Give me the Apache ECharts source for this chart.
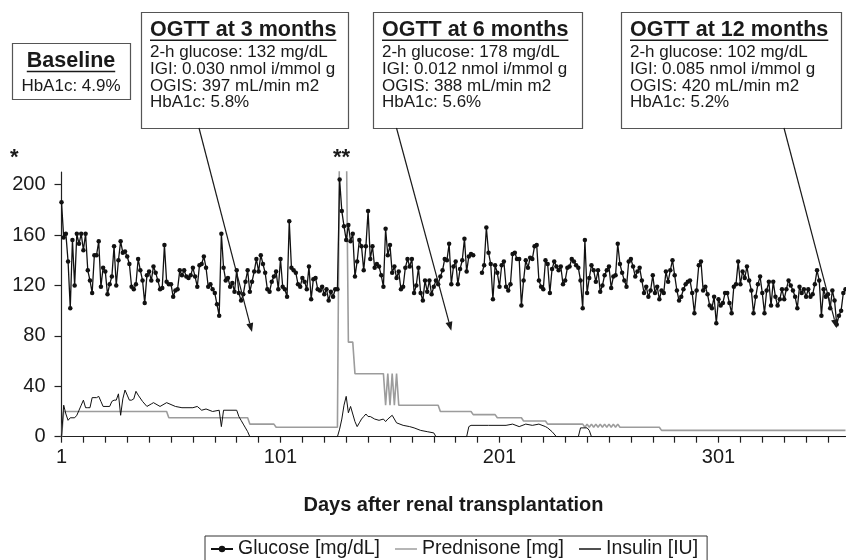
<!DOCTYPE html>
<html><head><meta charset="utf-8">
<script src="https://cdn.jsdelivr.net/npm/echarts@6/dist/echarts.min.js"></script>
<style>html,body{margin:0;padding:0;background:#fff}#c{width:846px;height:560px}</style>
</head><body><div id="c"></div>
<script>
// x values are "days after transplantation - 1" (day 1 -> 0)
const glucose = [
186,158,161,139,102,156,120,161,153,161,148,161,132,124,114,144,144,155,119,134,
131,113,121,127,151,120,140,155,146,147,143,137,119,117,121,141,132,124,106,128,
131,124,135,130,124,117,118,152,123,121,121,111,116,117,132,128,132,127,126,128,
134,127,119,136,137,143,134,119,121,117,114,105,96,
161,134,124,126,119,122,115,132,114,108,113,123,132,115,123,131,141,131,144,137,
130,117,115,123,127,131,117,141,119,117,111,171,134,132,130,121,119,126,123,117,
135,109,125,126,117,116,119,113,117,108,115,111,117,117,
204,179,167,156,168,155,161,127,139,156,151,132,151,179,141,
151,134,137,135,128,119,165,144,152,130,135,126,131,117,119,134,141,135,141,
114,120,134,114,108,124,115,124,113,119,124,121,127,132,141,140,153,121,135,139,
121,133,140,157,131,143,145,144,
null,null,null,
130,136,166,146,137,109,136,130,119,136,139,119,116,121,145,146,141,141,104,124,140,134,142,
141,151,152,124,119,117,140,137,114,133,139,135,132,135,121,124,134,135,141,139,
136,134,124,102,156,114,126,136,132,123,132,115,120,128,132,135,118,127,128,153,
137,130,124,119,139,141,135,127,131,134,124,114,119,111,116,128,114,119,109,116,
114,131,123,132,140,128,116,108,111,117,121,123,
124,114,98,116,136,139,116,119,113,104,102,111,90,109,104,106,114,114,106,98,
119,121,139,121,131,126,135,124,116,98,111,121,127,114,98,116,123,104,123,111,
104,109,117,109,117,124,120,116,111,102,119,114,117,111,117,111,113,121,132,124,
96,117,111,113,102,116,108,89,96,100,114,117
];
const predDay  = [0,1,48,49,85,86,97,98,126,127,130,131,133,134,147,148,149,150,151,152,153,154,172,173,187,188,198,199,210,211,221,222,238,239,240,241,242,243,244,245,246,247,248,249,250,251,252,253,254,255,273,274,358];
const predDose = [0,20,20,15,15,10,10,7.5,7.5,250,250,75,75,50,50,25,50,25,50,25,50,25,25,20,20,17.5,17.5,15,15,12.5,12.5,10,10,7.5,10,7.5,10,7.5,10,7.5,10,7.5,10,7.5,10,7.5,10,7.5,10,7.5,7.5,5,5];
const insDay = [0,1,2,3,4,6,7,8,9,10,11,12,13,14,16,17,18,19,22,23,24,25,26,27,28,29,30,31,32,33,34,35,37,39,41,42,45,48,52,55,60,62,64,66,69,72,73,74,80,81,82,83,84,85,86,126,127,128,129,130,131,132,133,134,135,136,137,138,139,140,141,143,145,147,148,149,151,153,156,159,161,164,167,170,171,185,186,187,195,203,206,209,212,215,218,221,222,224,226,236,237,240,241,242,358];
const insVal = [0,25,18,13,15,15,17,21,25,29,23,23,23,31,31,32,28,24,24,28,29,29,34,17,30,37,33,29,29,30,36,33,28,24,26,27,24,27,24,23,23,24,21,22,20,21,8,21,21,16,13,10,7,4,0,0,6,14,25,32,19,24,18,12,8,11,14,16,18,16,16,14,13,14,12,14,17,11,9,8,7,5,4,3,0,0,8,9,9,9,10,8,10,9,10,8,7,4,0,0,7,7,5,0,0];

const xTickValues = [0,10,20,30,40,50,60,70,80,90,100,110,120,130,140,150,160,170,180,190,200,210,220,230,240,250,260,270,280,290,300,310,320,330,340,350];
const xLabelValues = [0,100,200,300];   // shown as 1, 101, 201, 301
const yTickValues = [0,40,80,120,160,200];

const boxTitles = ['Baseline','OGTT at 3 months','OGTT at 6 months','OGTT at 12 months'];
const boxLines = [
  ['HbA1c: 4.9%'],
  ['2-h glucose: 132 mg/dL','IGI: 0.030 nmol i/mmol g','OGIS: 397 mL/min m2','HbA1c: 5.8%'],
  ['2-h glucose: 178 mg/dL','IGI: 0.012 nmol i/mmol g','OGIS: 388 mL/min m2','HbA1c: 5.6%'],
  ['2-h glucose: 102 mg/dL','IGI: 0.085 nmol i/mmol g','OGIS: 420 mL/min m2','HbA1c: 5.2%']
];
const ogttDay = [87, 178, 354];
const ogttArrowLevel = [83, 84, 86];

const FF = '"Liberation Sans", Arial, sans-serif';
const chart = echarts.init(document.getElementById('c'), null, {renderer: 'canvas'});

const gData = glucose.map((v, i) => [i, v]);
const pData = predDay.map((d, i) => [d, predDose[i]]);
const iData = insDay.map((d, i) => [d, insVal[i]]);
const lineIcon = 'path://M0,0H24V1.6H0Z';

chart.setOption({
  animation: false,
  backgroundColor: '#fff',
  grid: {left: 61.5, right: 0.5, top: 172, bottom: 123.3, containLabel: false},
  xAxis: {
    type: 'value', min: 0, max: 358, interval: 10,
    name: 'Days after renal transplantation', nameLocation: 'middle', nameGap: 59,
    nameTextStyle: {fontFamily: FF, fontSize: 20, fontWeight: 'bold', color: '#1a1a1a'},
    axisLine: {lineStyle: {color: '#222', width: 1.2}},
    axisTick: {length: 6, lineStyle: {color: '#222', width: 1.2}, customValues: xTickValues},
    axisLabel: {customValues: xLabelValues, margin: 11, fontFamily: FF, fontSize: 20, color: '#1a1a1a',
      formatter: v => (v % 100 === 0 ? String(v + 1) : '')},
    splitLine: {show: false}
  },
  yAxis: {
    type: 'value', min: 0, max: 210, interval: 40,
    axisLine: {show: true, lineStyle: {color: '#222', width: 1.2}},
    axisTick: {show: true, length: 7, lineStyle: {color: '#222', width: 1.2}, customValues: yTickValues},
    axisLabel: {customValues: yTickValues, margin: 16, fontFamily: FF, fontSize: 20, color: '#1a1a1a'},
    splitLine: {show: false}
  },
  legend: {
    left: 205, top: 536, padding: [3, 9, 3, 5], itemGap: 15, itemWidth: 22, itemHeight: 8,
    borderColor: '#333', borderWidth: 1,
    textStyle: {fontFamily: FF, fontSize: 19.5, color: '#1a1a1a'},
    data: [
      {name: 'Glucose [mg/dL]'},
      {name: 'Prednisone [mg]', icon: lineIcon},
      {name: 'Insulin [IU]', icon: lineIcon}
    ]
  },
  series: [
    {name: 'Prednisone [mg]', type: 'line', data: pData, symbol: 'none', z: 2,
     lineStyle: {color: '#9c9c9c', width: 1.6}, itemStyle: {color: '#9c9c9c'}},
    {name: 'Insulin [IU]', type: 'line', data: iData, symbol: 'none', z: 3,
     lineStyle: {color: '#111', width: 1}, itemStyle: {color: '#111'}},
    {name: 'Glucose [mg/dL]', type: 'line', data: gData, symbol: 'circle', symbolSize: 4.5, showAllSymbol: true, z: 4,
     connectNulls: false, lineStyle: {color: '#111', width: 1.3}, itemStyle: {color: '#111'}}
  ]
});

// annotations
const mctx = document.createElement('canvas').getContext('2d');
function textW(font, s) { mctx.font = font; return mctx.measureText(s).width; }
const titleFont = 'bold 21.5px ' + FF;
const bodyFont = '17px ' + FF;
const boxGeom = [
  {x: 12, y: 43, w: 118, h: 56, tx: 71, center: true, titleY: 61.5, bodyY: 86},
  {x: 141, y: 12, w: 207, h: 116, tx: 150, titleY: 30.3, bodyY: 52.7},
  {x: 373, y: 12, w: 209, h: 116, tx: 382, titleY: 30.3, bodyY: 52.7},
  {x: 621, y: 12, w: 220, h: 116, tx: 630, titleY: 30.3, bodyY: 52.7}
];
const arrowStart = [[199, 128], [396.5, 128], [784, 128]];
const g = [];
boxGeom.forEach((b, i) => {
  g.push({type: 'rect', z: 20, shape: {x: b.x + 0.5, y: b.y + 0.5, width: b.w, height: b.h},
    style: {fill: '#fff', stroke: '#555', lineWidth: 1.2}});
  const tw = textW(titleFont, boxTitles[i]);
  const tx0 = b.center ? b.tx - tw / 2 : b.tx;
  g.push({type: 'text', z: 21, x: tx0, y: b.titleY,
    style: {text: boxTitles[i], font: titleFont, fill: '#1a1a1a', align: 'left', verticalAlign: 'middle'}});
  g.push({type: 'line', z: 21, shape: {x1: tx0, y1: b.titleY + 10, x2: tx0 + tw, y2: b.titleY + 10},
    style: {stroke: '#1a1a1a', lineWidth: 1.6}});
  boxLines[i].forEach((s, k) => {
    g.push({type: 'text', z: 21, x: b.tx, y: b.bodyY + k * 16.6,
      style: {text: s, font: bodyFont, fill: '#1a1a1a', align: b.center ? 'center' : 'left', verticalAlign: 'middle'}});
  });
});
ogttDay.forEach((d, i) => {
  const tip = chart.convertToPixel({xAxisIndex: 0, yAxisIndex: 0}, [d, ogttArrowLevel[i]]);
  const s = arrowStart[i];
  const dx = tip[0] - s[0], dy = tip[1] - s[1], L = Math.hypot(dx, dy);
  const ux = dx / L, uy = dy / L, hl = 9, hw = 3.5;
  const bx = tip[0] - ux * hl, by = tip[1] - uy * hl;
  g.push({type: 'line', z: 22, shape: {x1: s[0], y1: s[1], x2: bx, y2: by}, style: {stroke: '#1a1a1a', lineWidth: 1.2}});
  g.push({type: 'polygon', z: 22, shape: {points: [[tip[0], tip[1]], [bx - uy * hw, by + ux * hw], [bx + uy * hw, by - ux * hw]]},
    style: {fill: '#1a1a1a'}});
});
const starFont = 'bold 22px ' + FF;
g.push({type: 'text', z: 21, x: 10, y: 158, style: {text: '*', font: starFont, fill: '#1a1a1a', align: 'left', verticalAlign: 'middle'}});
g.push({type: 'text', z: 21, x: 333, y: 158, style: {text: '**', font: starFont, fill: '#1a1a1a', align: 'left', verticalAlign: 'middle'}});
chart.setOption({graphic: g});
</script></body></html>
